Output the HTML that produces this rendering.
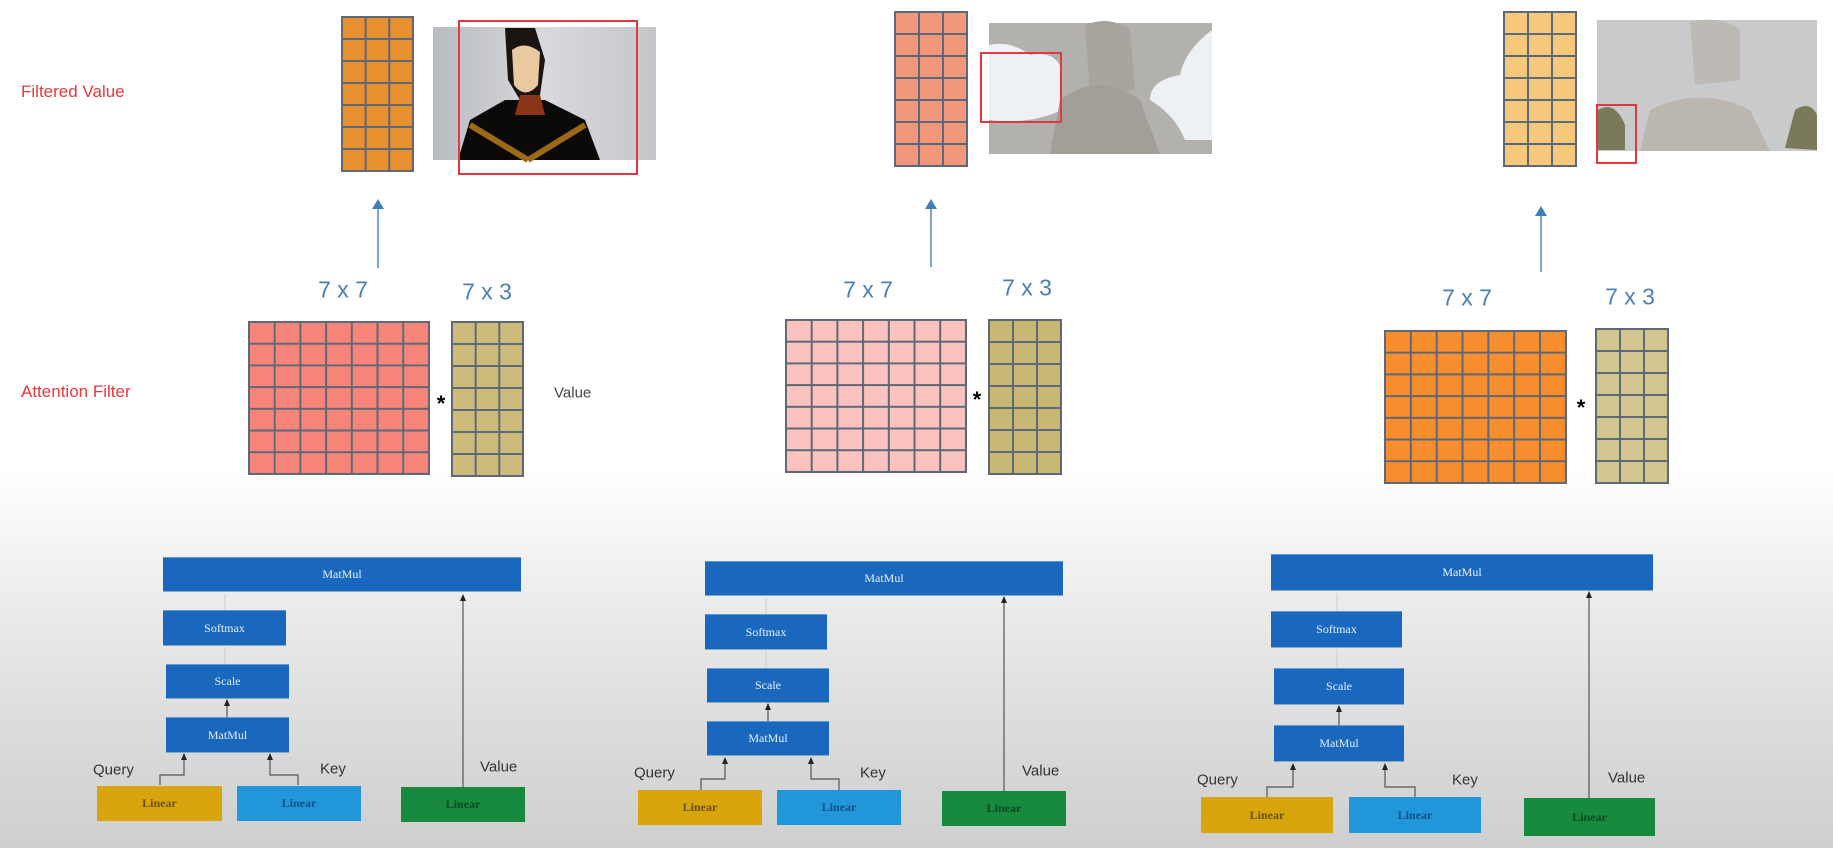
<!DOCTYPE html>
<html><head><meta charset="utf-8"><style>
*{margin:0;padding:0;box-sizing:border-box}
body{width:1833px;height:848px;position:relative;overflow:hidden;font-family:"Liberation Sans",sans-serif;
background:linear-gradient(to bottom,#fff 0px,#fff 470px,#ececec 600px,#d8d8d8 760px,#cfcfcf 848px)}
.a{position:absolute}
.m{position:absolute;border-right:2px solid #5d6878;border-bottom:2px solid #5d6878}
.lbl{position:absolute;color:#e8383a;font-size:17px;white-space:nowrap}
.dim{position:absolute;color:#4a7fb0;font-size:23px;white-space:nowrap;transform:translate(-50%,-50%)}
.star{position:absolute;font-size:22px;font-weight:bold;transform:translate(-50%,-50%)}
.bx{position:absolute;background:#1a68bd;color:#e8f0ff;font-family:"Liberation Serif",serif;font-size:12px;display:flex;align-items:center;justify-content:center;border-top:1px solid #5a9ad8;box-shadow:0 1px 0 #8ab}
.ln{position:absolute;font-family:"Liberation Serif",serif;font-size:12px;display:flex;align-items:center;justify-content:center;font-weight:bold}
.y{background:#d9a50c;color:#6a5010}
.b{background:#2196d8;color:#10508a}
.g{background:#178a3e;color:#0d4a22}
.t{position:absolute;font-size:15px;color:#333;white-space:nowrap;transform:translateY(-50%)}
.red{position:absolute;border:2px solid #e03a40}
</style></head><body>

<div class="lbl" style="left:21px;top:82px">Filtered Value</div>
<div class="lbl" style="left:21px;top:382px">Attention Filter</div>
<div class="t" style="left:554px;top:393px;color:#444">Value</div>

<div class="m" style="left:341px;top:16px;width:73px;height:156px;background-color:#e8912f;background-image:linear-gradient(to right,#5d6878 2px,transparent 2px),linear-gradient(to bottom,#5d6878 2px,transparent 2px);background-size:calc(100%/3) 100%,100% calc(100%/7)"></div>
<div class="m" style="left:248px;top:321px;width:182px;height:154px;background-color:#f7857a;background-image:linear-gradient(to right,#5d6878 2px,transparent 2px),linear-gradient(to bottom,#5d6878 2px,transparent 2px);background-size:calc(100%/7) 100%,100% calc(100%/7)"></div>
<div class="m" style="left:451px;top:321px;width:73px;height:156px;background-color:#cdbb7c;background-image:linear-gradient(to right,#5d6878 2px,transparent 2px),linear-gradient(to bottom,#5d6878 2px,transparent 2px);background-size:calc(100%/3) 100%,100% calc(100%/7)"></div>

<div class="m" style="left:894px;top:11px;width:74px;height:156px;background-color:#f2977a;background-image:linear-gradient(to right,#5d6878 2px,transparent 2px),linear-gradient(to bottom,#5d6878 2px,transparent 2px);background-size:calc(100%/3) 100%,100% calc(100%/7)"></div>
<div class="m" style="left:785px;top:319px;width:182px;height:154px;background-color:#fbc2be;background-image:linear-gradient(to right,#5d6878 2px,transparent 2px),linear-gradient(to bottom,#5d6878 2px,transparent 2px);background-size:calc(100%/7) 100%,100% calc(100%/7)"></div>
<div class="m" style="left:988px;top:319px;width:74px;height:156px;background-color:#c9b874;background-image:linear-gradient(to right,#5d6878 2px,transparent 2px),linear-gradient(to bottom,#5d6878 2px,transparent 2px);background-size:calc(100%/3) 100%,100% calc(100%/7)"></div>

<div class="m" style="left:1503px;top:11px;width:74px;height:156px;background-color:#f5c87c;background-image:linear-gradient(to right,#5d6878 2px,transparent 2px),linear-gradient(to bottom,#5d6878 2px,transparent 2px);background-size:calc(100%/3) 100%,100% calc(100%/7)"></div>
<div class="m" style="left:1384px;top:330px;width:183px;height:154px;background-color:#f98e2e;background-image:linear-gradient(to right,#5d6878 2px,transparent 2px),linear-gradient(to bottom,#5d6878 2px,transparent 2px);background-size:calc(100%/7) 100%,100% calc(100%/7)"></div>
<div class="m" style="left:1595px;top:328px;width:74px;height:156px;background-color:#d4c48e;background-image:linear-gradient(to right,#5d6878 2px,transparent 2px),linear-gradient(to bottom,#5d6878 2px,transparent 2px);background-size:calc(100%/3) 100%,100% calc(100%/7)"></div>

<div class="dim" style="left:343px;top:290px">7 x 7</div>
<div class="dim" style="left:487px;top:292px">7 x 3</div>
<div class="dim" style="left:868px;top:290px">7 x 7</div>
<div class="dim" style="left:1027px;top:288px">7 x 3</div>
<div class="dim" style="left:1467px;top:298px">7 x 7</div>
<div class="dim" style="left:1630px;top:297px">7 x 3</div>
<div class="star" style="left:441px;top:404px">*</div>
<div class="star" style="left:977px;top:400px">*</div>
<div class="star" style="left:1581px;top:408px">*</div>

<svg class="a" style="left:0;top:0" width="1833" height="848">
<g stroke="#7ea6c8" stroke-width="2">
<line x1="378" y1="268" x2="378" y2="206"/><line x1="931" y1="267" x2="931" y2="206"/><line x1="1541" y1="272" x2="1541" y2="213"/>
</g>
<g fill="#3d7fb8"><path d="M372,209 L378,199 L384,209Z"/><path d="M925,209 L931,199 L937,209Z"/><path d="M1535,216 L1541,206 L1547,216Z"/></g>
<defs><linearGradient id="gr" x1="0" x2="1"><stop offset="0" stop-color="#b8bbc0"/><stop offset=".5" stop-color="#d8d9dc"/><stop offset="1" stop-color="#c4c6ca"/></linearGradient></defs>
<rect x="433" y="27" width="223" height="133" fill="url(#gr)"/>
<path d="M505,28 L535,28 L545,60 L540,95 L520,100 L508,80Z" fill="#1a1410"/>
<path d="M512,50 Q525,40 540,52 L538,85 Q525,100 514,85Z" fill="#e9c9a0"/>
<path d="M458,160 L470,120 L505,100 L545,100 L585,120 L600,160Z" fill="#0c0a08"/>
<path d="M520,95 L540,95 L545,115 L515,115Z" fill="#8a3418"/>
<path d="M470,125 L528,160 M585,125 L528,160" stroke="#9a6a18" stroke-width="6" fill="none"/>
<rect x="989" y="23" width="223" height="131" fill="#b2b1ae"/>
<path d="M1085,25 Q1110,15 1130,30 L1135,90 L1090,95Z" fill="#a8a49e"/>
<path d="M989,45 Q1010,40 1030,55 Q1055,50 1062,70 L1062,110 Q1030,125 989,120Z" fill="#eef2f6"/>
<path d="M1212,30 Q1185,50 1180,75 Q1150,80 1150,100 Q1175,115 1185,140 L1212,140Z" fill="#eef1f4"/>
<path d="M1050,154 L1060,100 Q1100,70 1140,100 L1160,154Z" fill="#a39f98"/>
<rect x="1597" y="20" width="220" height="131" fill="#c9cacc"/>
<path d="M1690,22 Q1720,15 1740,30 L1740,80 L1695,85Z" fill="#bdbab6"/>
<path d="M1640,151 L1650,110 Q1700,85 1750,110 L1770,151Z" fill="#bbb6b0"/>
<path d="M1598,110 Q1615,100 1625,125 L1625,150 L1598,150Z" fill="#7a7a5a"/>
<path d="M1795,110 Q1810,100 1817,115 L1817,150 L1785,148Z" fill="#7a7a5a"/>
<g stroke="#555" stroke-width="1.2" fill="none">
<path d="M160,785 V775 H184 V755"/><path d="M298,785 V775 H270 V755"/><path d="M463,787 V596"/><path d="M227,717 V700"/>
<path d="M701,790 V779 H725 V759"/><path d="M839,790 V779 H811 V759"/><path d="M1004,791 V598"/><path d="M768,721 V704"/>
<path d="M1267,797 V787 H1293 V765"/><path d="M1415,797 V787 H1385 V765"/><path d="M1589,798 V593"/><path d="M1339,725 V706"/>
</g>
<g stroke="#ccc" stroke-width="1" fill="none">
<path d="M225,610 V594"/><path d="M225,664 V647"/>
<path d="M766,614 V598"/><path d="M766,668 V651"/>
<path d="M1337,611 V593"/><path d="M1337,668 V649"/>
</g>
<g fill="#222">
<path d="M181,760 L184,753 L187,760Z"/><path d="M267,760 L270,753 L273,760Z"/><path d="M460,601 L463,594 L466,601Z"/><path d="M224,706 L227,699 L230,706Z"/>
<path d="M722,764 L725,757 L728,764Z"/><path d="M808,764 L811,757 L814,764Z"/><path d="M1001,603 L1004,596 L1007,603Z"/><path d="M765,710 L768,703 L771,710Z"/>
<path d="M1290,770 L1293,763 L1296,770Z"/><path d="M1382,770 L1385,763 L1388,770Z"/><path d="M1586,598 L1589,591 L1592,598Z"/><path d="M1336,712 L1339,705 L1342,712Z"/>
</g>
</svg>
<div class="red" style="left:458px;top:20px;width:180px;height:155px"></div>
<div class="red" style="left:980px;top:52px;width:82px;height:71px"></div>
<div class="red" style="left:1596px;top:104px;width:41px;height:60px"></div>

<div class="bx" style="left:163px;top:557px;width:358px;height:34px">MatMul</div>
<div class="bx" style="left:163px;top:610px;width:123px;height:35px">Softmax</div>
<div class="bx" style="left:166px;top:664px;width:123px;height:34px">Scale</div>
<div class="bx" style="left:166px;top:717px;width:123px;height:35px">MatMul</div>
<div class="t" style="left:93px;top:770px">Query</div>
<div class="t" style="left:320px;top:769px">Key</div>
<div class="t" style="left:480px;top:767px">Value</div>
<div class="ln y" style="left:97px;top:786px;width:125px;height:35px">Linear</div>
<div class="ln b" style="left:237px;top:786px;width:124px;height:35px">Linear</div>
<div class="ln g" style="left:401px;top:787px;width:124px;height:35px">Linear</div>

<div class="bx" style="left:705px;top:561px;width:358px;height:34px">MatMul</div>
<div class="bx" style="left:705px;top:614px;width:122px;height:35px">Softmax</div>
<div class="bx" style="left:707px;top:668px;width:122px;height:34px">Scale</div>
<div class="bx" style="left:707px;top:721px;width:122px;height:34px">MatMul</div>
<div class="t" style="left:634px;top:773px">Query</div>
<div class="t" style="left:860px;top:773px">Key</div>
<div class="t" style="left:1022px;top:771px">Value</div>
<div class="ln y" style="left:638px;top:790px;width:124px;height:35px">Linear</div>
<div class="ln b" style="left:777px;top:790px;width:124px;height:35px">Linear</div>
<div class="ln g" style="left:942px;top:791px;width:124px;height:35px">Linear</div>

<div class="bx" style="left:1271px;top:554px;width:382px;height:36px">MatMul</div>
<div class="bx" style="left:1271px;top:611px;width:131px;height:36px">Softmax</div>
<div class="bx" style="left:1274px;top:668px;width:130px;height:36px">Scale</div>
<div class="bx" style="left:1274px;top:725px;width:130px;height:36px">MatMul</div>
<div class="t" style="left:1197px;top:780px">Query</div>
<div class="t" style="left:1452px;top:780px">Key</div>
<div class="t" style="left:1608px;top:778px">Value</div>
<div class="ln y" style="left:1201px;top:797px;width:132px;height:36px">Linear</div>
<div class="ln b" style="left:1349px;top:797px;width:132px;height:36px">Linear</div>
<div class="ln g" style="left:1524px;top:798px;width:131px;height:38px">Linear</div>
</body></html>
